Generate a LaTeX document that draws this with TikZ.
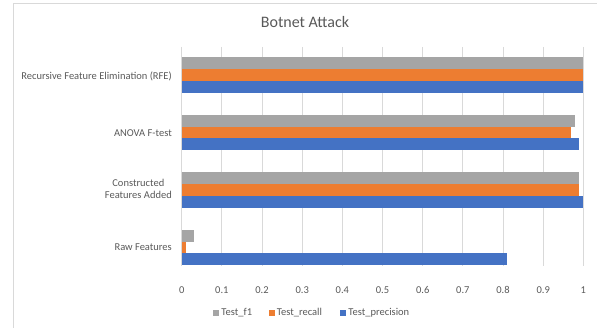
\documentclass[tikz,border=0pt]{standalone}
\usepackage{fontspec}
\setmainfont{Carlito}
\usetikzlibrary{positioning}

\definecolor{f1gray}{HTML}{A5A5A5}
\definecolor{recallorange}{HTML}{ED7D31}
\definecolor{precblue}{HTML}{4472C4}
\definecolor{gridgray}{HTML}{D9D9D9}
\definecolor{labelgray}{HTML}{595959}

\begin{document}
\begin{tikzpicture}[
    x=1pt, y=-1pt,
    cat/.style={anchor=east, align=center, inner sep=0pt, text=labelgray, font=\fontsize{10.5}{12.5}\selectfont},
    tick/.style={inner sep=0pt, text=labelgray, font=\fontsize{10.5}{12.5}\selectfont},
    key/.style={inner sep=0pt, minimum size=6pt},
    keytext/.style={inner sep=0pt, anchor=west, text=labelgray, font=\fontsize{10.5}{12.5}\selectfont},
    grid/.style={draw=gridgray, line width=0.9pt}
]
\useasboundingbox (0,0) rectangle (597,328);

% chart frame
\draw[gridgray, line width=0.8pt] (13.5,340) -- (13.5,3.5) -- (610,3.5);

\node[text=labelgray, font=\fontsize{16}{18}\selectfont] (title) at (305,22) {Botnet Attack};

% value axis, 0 .. 1
\begin{scope}[shift={(181.7,0)}]
\foreach \v [count=\i from 0] in {0,0.1,0.2,0.3,0.4,0.5,0.6,0.7,0.8,0.9,1} {
    \draw[grid] ({\i*40.17},47) -- ({\i*40.17},266);
    \node[tick] (tick\i) at ({\i*40.17},290) {\v};
}
% top of each group / f1 / recall / precision
\foreach \y/\f/\r/\p in {57.5/1/1/1, 115/0.98/0.97/0.99, 172.5/0.99/0.99/1, 230/0.03/0.01/0.81} {
    \fill[f1gray]       (0,\y)        rectangle ({\f*401.7},{\y+11.7});
    \fill[recallorange] (0,{\y+11.7}) rectangle ({\r*401.7},{\y+23.4});
    \fill[precblue]     (0,{\y+23.4}) rectangle ({\p*401.7},{\y+35.1});
}
\end{scope}

% category names
\node[cat] (rfe) at (172,76) {Recursive Feature Elimination (RFE)};
\node[cat] (anova) at (172,133) {ANOVA F-test};
\node[cat] (constructed) at (172,189) {Constructed\\Features Added};
\node[cat] (raw) at (172,247) {Raw Features};

% legend
\node[key, fill=f1gray] (kf1) at (216,313) {};
\node[keytext, right=2pt of kf1] (lf1) {Test\_f1};
\node[key, fill=recallorange] (krecall) at (271.5,313) {};
\node[keytext, right=2pt of krecall] (lrecall) {Test\_recall};
\node[key, fill=precblue] (kprec) at (343,313) {};
\node[keytext, right=2pt of kprec] (lprec) {Test\_precision};
\end{tikzpicture}
\end{document}
